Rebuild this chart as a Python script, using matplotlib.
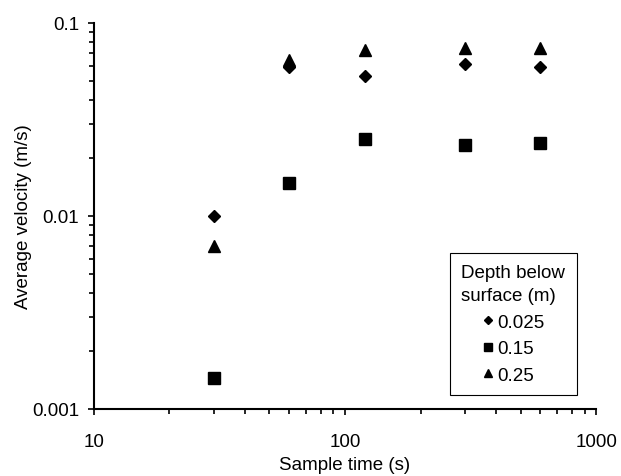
import matplotlib.pyplot as plt
from matplotlib.ticker import LogLocator, NullFormatter, FixedFormatter, FixedLocator

plt.rcParams['font.family'] = ['Liberation Sans', 'DejaVu Sans']

sample_time = [30, 60, 120, 300, 600]
depth_0025 = [0.0100, 0.059, 0.053, 0.061, 0.059]
depth_015 = [0.00145, 0.0148, 0.0251, 0.0233, 0.0240]
depth_025 = [0.0070, 0.064, 0.0724, 0.074, 0.074]

fig = plt.figure(figsize=(6.21, 4.77), dpi=100)
ax = fig.add_axes([0.151, 0.1405, 0.809, 0.8095])

ax.plot(sample_time, depth_0025, linestyle='none', marker='D', markersize=6,
        color='black', label='0.025')
ax.plot(sample_time, depth_015, linestyle='none', marker='s', markersize=8,
        color='black', label='0.15')
ax.plot(sample_time, depth_025, linestyle='none', marker='^', markersize=8,
        color='black', label='0.25')

ax.set_xscale('log')
ax.set_yscale('log')
ax.set_xlim(10, 1000)
ax.set_ylim(0.001, 0.1)

ax.xaxis.set_major_locator(FixedLocator([10, 100, 1000]))
ax.xaxis.set_major_formatter(FixedFormatter(['10', '100', '1000']))
ax.yaxis.set_major_locator(FixedLocator([0.001, 0.01, 0.1]))
ax.yaxis.set_major_formatter(FixedFormatter(['0.001', '0.01', '0.1']))
ax.xaxis.set_minor_locator(LogLocator(base=10, subs=range(2, 10)))
ax.yaxis.set_minor_locator(LogLocator(base=10, subs=range(2, 10)))
ax.xaxis.set_minor_formatter(NullFormatter())
ax.yaxis.set_minor_formatter(NullFormatter())

ax.spines['top'].set_visible(False)
ax.spines['right'].set_visible(False)
ax.spines['left'].set_linewidth(1.5)
ax.spines['bottom'].set_linewidth(1.5)
ax.tick_params(axis='both', which='both', direction='out', width=1.2, labelsize=13.5)
ax.tick_params(axis='both', which='major', length=4.5)
ax.tick_params(axis='both', which='minor', length=3.5)
ax.tick_params(axis='x', which='major', pad=13)
ax.tick_params(axis='y', which='major', pad=6)

ax.set_xlabel('Sample time (s)', fontsize=13.5, labelpad=4)
ax.set_ylabel('Average velocity (m/s)', fontsize=13.5, labelpad=0)

leg = ax.legend(title='Depth below\nsurface (m)', loc='lower right',
                bbox_to_anchor=(0.961, 0.036), fontsize=13.5, title_fontsize=13.5,
                markerscale=0.75, handlelength=0.7, handletextpad=0.15,
                fancybox=False, edgecolor='black', framealpha=1,
                borderpad=0.6, labelspacing=0.5, borderaxespad=0)
leg.get_frame().set_linewidth(0.8)
leg.get_title().set_linespacing(1.45)

fig.savefig('out.png', dpi=100)
